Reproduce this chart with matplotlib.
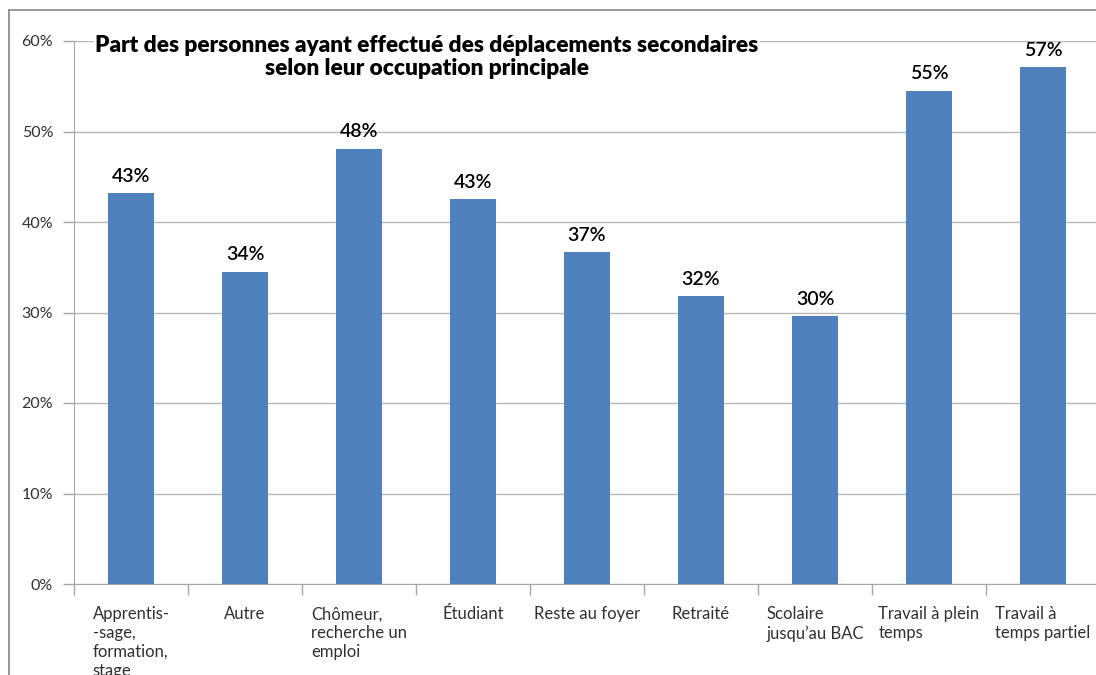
import numpy as np
import matplotlib.pyplot as plt
from matplotlib.lines import Line2D

plt.rcParams['font.family'] = ['Lato', 'DejaVu Sans']

categories = ["Apprentis-\n-sage,\nformation,\nstage", "Autre", "Chômeur,\nrecherche un\nemploi",
              "Étudiant", "Reste au foyer", "Retraité", "Scolaire\njusqu’au BAC",
              "Travail à plein\ntemps", "Travail à\ntemps partiel"]
values = [0.432, 0.345, 0.481, 0.425, 0.367, 0.318, 0.296, 0.545, 0.571]
value_labels = ["43%", "34%", "48%", "43%", "37%", "32%", "30%", "55%", "57%"]
yticks = [0, 0.1, 0.2, 0.3, 0.4, 0.5, 0.6]
ytick_labels = ["0%", "10%", "20%", "30%", "40%", "50%", "60%"]

W, H = 1096, 675
fig = plt.figure(figsize=(W / 100, H / 100), dpi=100)
ax = fig.add_axes([74 / W, 91 / H, (1100 - 74) / W, (584 - 41) / H])

x = np.arange(len(categories))
bars = ax.bar(x, values, width=0.40, color='#4F81BD', zorder=3)

for b, lab in zip(bars, value_labels):
    ax.annotate(lab, (b.get_x() + b.get_width() / 2, b.get_height()),
                xytext=(0, 6), textcoords='offset points', ha='center', va='bottom',
                fontsize=14, fontweight='semibold', color='black')

ax.set_xlim(-0.5, len(categories) - 0.5)
ax.set_ylim(0, 0.6)
ax.set_yticks(yticks)
ax.set_yticklabels(ytick_labels, fontsize=11.5, color='#303030')
ax.tick_params(axis='y', length=8, width=1, color='#a6a6a6', pad=7)

ax.set_xticks(x)
ax.set_xticklabels(categories, fontsize=12, color='#303030', linespacing=1.22,
                   multialignment='left', va='top')
ax.tick_params(axis='x', which='major', length=0, pad=16)
ax.set_xticks(np.arange(len(categories) + 1) - 0.5, minor=True)
ax.tick_params(axis='x', which='minor', length=8, width=1, color='#a6a6a6')

ax.grid(axis='y', color='#b8b8b8', linewidth=1, zorder=0)
for s in ['top', 'right']:
    ax.spines[s].set_visible(False)
ax.spines['left'].set_color('#a6a6a6')
ax.spines['bottom'].set_color('#a6a6a6')

fig.text(427 / W, 1 - 57 / H,
         "Part des personnes ayant effectué des déplacements secondaires\nselon leur occupation principale",
         ha='center', va='center', fontsize=16.3, fontweight='heavy', multialignment='center',
         linespacing=1.1, bbox=dict(facecolor='white', edgecolor='none', pad=1))

# chart border
fig.add_artist(Line2D([9 / W, 9 / W], [0, 1 - 10 / H], color='#888888', lw=1.2))
fig.add_artist(Line2D([9 / W, 1], [1 - 10 / H, 1 - 10 / H], color='#888888', lw=1.2))

fig.savefig('out.png', dpi=100)
